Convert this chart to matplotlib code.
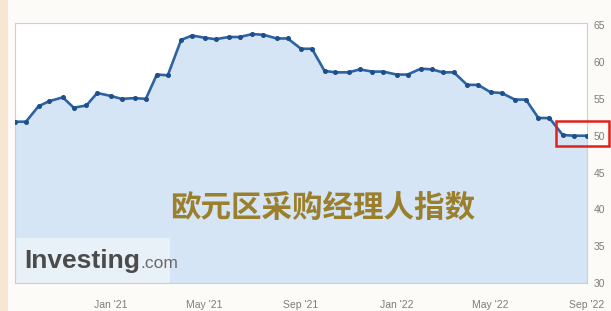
import numpy as np
import pandas as pd
import matplotlib
matplotlib.use("Agg")
import matplotlib.pyplot as plt
from matplotlib.patches import Rectangle

# Eurozone manufacturing PMI, two readings per month
dates = pd.date_range("2020-09-01", periods=49, freq="SMS")
pmi = [51.9, 51.9, 54.0, 54.7, 55.2, 53.8, 54.1, 55.8, 55.4, 55.0, 55.1, 55.0,
       58.3, 58.2, 63.0, 63.6, 63.3, 63.1, 63.4, 63.4, 63.8, 63.7, 63.2, 63.2, 61.8,
       61.8, 58.8, 58.6, 58.6, 59.0, 58.7, 58.7, 58.3, 58.3, 59.1, 59.0, 58.6, 58.6,
       56.9, 56.9, 55.9, 55.8, 54.9, 54.9, 52.4, 52.4, 50.1, 50.0, 50.0]

xtick_dates = pd.to_datetime(["2021-01-01", "2021-05-01", "2021-09-01",
                              "2022-01-01", "2022-05-01", "2022-09-01"])
xtick_labels = ["Jan '21", "May '21", "Sep '21", "Jan '22", "May '22", "Sep '22"]
yticks = [30, 35, 40, 45, 50, 55, 60, 65]
title = "欧元区采购经理人指数"

W, H = 611, 311
fig = plt.figure(figsize=(W / 100, H / 100), dpi=100)
fig.patch.set_facecolor("#fdfbf7")
# peach strip on the left edge
fig.add_artist(Rectangle((0, 0), 8 / W, 1, transform=fig.transFigure,
                         facecolor="#f7e6d4", edgecolor="none", zorder=0))

ax = fig.add_axes([15 / W, (H - 283) / H, (587 - 15) / W, (283 - 23) / H])
ax.set_facecolor("white")
ax.fill_between(dates, pmi, 30, color="#d5e5f5", zorder=1)
ax.plot(dates, pmi, color="#2d63a3", lw=1.9, marker="o", ms=2.6,
        mfc="#1f4f8a", mec="#1f4f8a", zorder=3)

ax.set_xlim(pd.Timestamp("2020-09-01"), pd.Timestamp("2022-09-01"))
ax.set_ylim(30, 65.3)

ax.yaxis.tick_right()
ax.set_yticks(yticks)
ax.set_yticklabels([str(v) for v in yticks], fontsize=7.5, color="#7d7d7d",
                   family="Liberation Sans")
ax.set_xticks(xtick_dates)
ax.set_xticklabels(xtick_labels, fontsize=7.5, color="#7d7d7d",
                   family="Liberation Sans")
ax.tick_params(axis="both", length=0)
ax.tick_params(axis="x", pad=12)
ax.tick_params(axis="y", pad=5)
for s in ax.spines.values():
    s.set_color("#cfcfcf")
    s.set_linewidth(0.8)

# watermark
ax.add_patch(Rectangle((0, 0), 155 / 572, 45 / 260, transform=ax.transAxes,
                       facecolor="#e8f0f8", edgecolor="none", zorder=2))
t1 = fig.text(24 / W, 1 - 268 / H, "Investing", fontsize=19, fontweight="bold",
              color="#4b4b4b", family="Liberation Sans", zorder=5)
fig.canvas.draw()
bb = t1.get_window_extent()
fig.text(bb.x1 / W + 1 / W, 1 - 268 / H, ".com", fontsize=12.5, color="#6a6a6a",
         family="Liberation Sans", zorder=5)

# overlay title
fig.text(323 / W, 1 - 208 / H, title, fontsize=22, fontweight="bold",
         color="#9a7f2c", ha="center", va="center",
         family=["Noto Sans CJK SC", "DejaVu Sans"], zorder=5)

# red highlight box
fig.add_artist(Rectangle((556 / W, 1 - 146 / H), 53 / W, 25 / H,
                         transform=fig.transFigure, fill=False,
                         edgecolor="#e3211c", lw=1.8, zorder=6))

fig.savefig("out.png", dpi=100, facecolor=fig.get_facecolor())
